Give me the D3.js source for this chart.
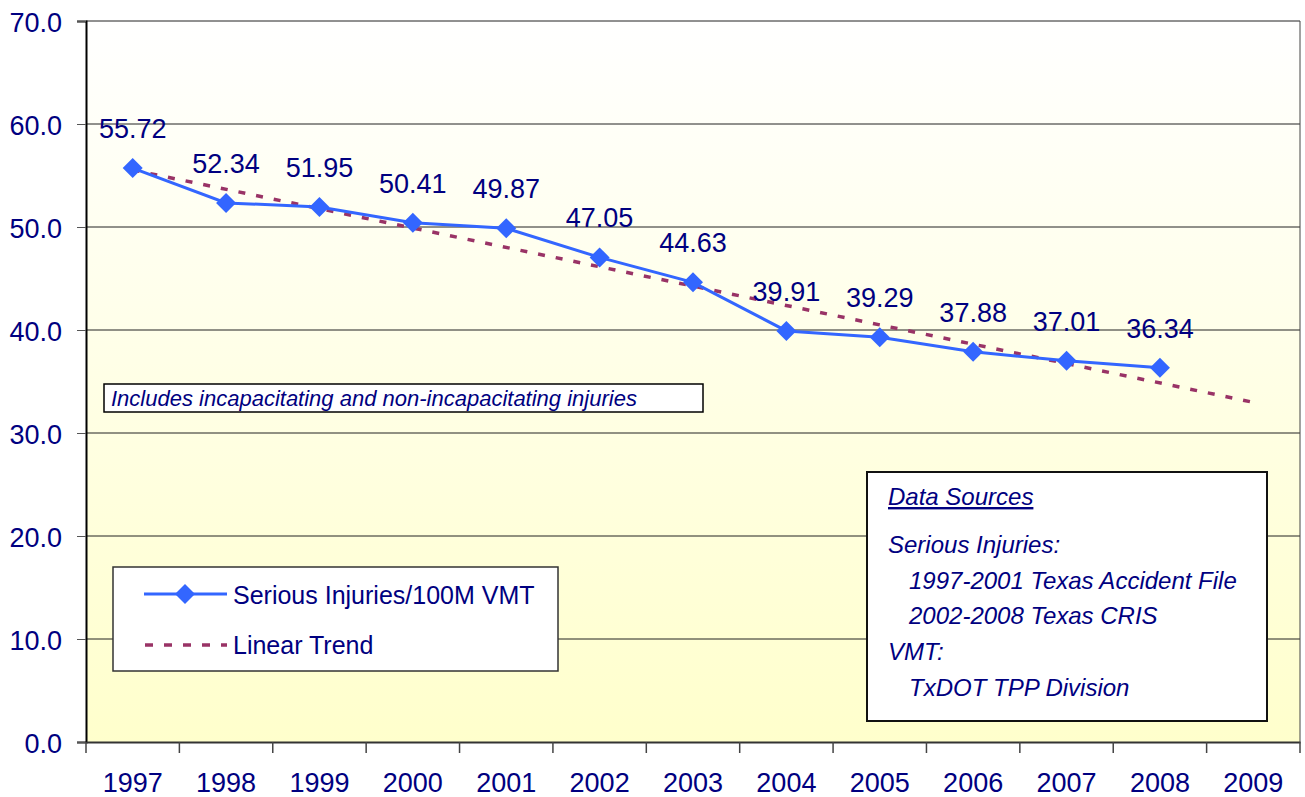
<!DOCTYPE html>
<html>
<head>
<meta charset="utf-8">
<script src="https://d3js.org/d3.v7.min.js"></script>
<style>
body { margin: 0; background: #fff; }
svg text { font-family: "Liberation Sans", Arial, sans-serif; fill: #000080; }
</style>
</head>
<body>
<svg id="chart" width="1305" height="797"></svg>
<script>
// values
const years = ["1997","1998","1999","2000","2001","2002","2003","2004","2005","2006","2007","2008","2009"];
const injuryYears = ["1997","1998","1999","2000","2001","2002","2003","2004","2005","2006","2007","2008"];
const injuryRates = [55.72, 52.34, 51.95, 50.41, 49.87, 47.05, 44.63, 39.91, 39.29, 37.88, 37.01, 36.34];
const trendYears = ["1997", "2009"];
const trendValues = [55.54, 32.98];
const yTicks = [0, 10, 20, 30, 40, 50, 60, 70];
const sourceLines = [
    {text: "Serious Injuries:", indent: false},
    {text: "1997-2001 Texas Accident File", indent: true},
    {text: "2002-2008 Texas CRIS", indent: true},
    {text: "VMT:", indent: false},
    {text: "TxDOT TPP Division", indent: true}
];

const svg = d3.select("#chart");
const plotL = 86, plotR = 1300, plotT = 21, plotB = 742;

const x = d3.scaleBand().domain(years).range([plotL, plotR]).padding(0);
const y = d3.scaleLinear().domain([0, 70]).range([plotB, plotT]);
const cx = d => x(d) + x.bandwidth() / 2;

// plot background gradient
const grad = svg.append("defs").append("linearGradient")
    .attr("id", "bg").attr("x1", 0).attr("y1", 0).attr("x2", 0).attr("y2", 1);
grad.append("stop").attr("offset", "0%").attr("stop-color", "#ffffff");
grad.append("stop").attr("offset", "100%").attr("stop-color", "#ffffcc");

svg.append("rect")
    .attr("x", plotL).attr("y", plotT)
    .attr("width", plotR - plotL).attr("height", plotB - plotT)
    .attr("fill", "url(#bg)");

// gridlines
svg.append("g").selectAll("line")
    .data(yTicks.filter(t => t > 0))
    .join("line")
    .attr("x1", plotL).attr("x2", plotR)
    .attr("y1", d => y(d)).attr("y2", d => y(d))
    .attr("stroke", "#222").attr("stroke-width", 1);

// right border
svg.append("line")
    .attr("x1", plotR).attr("x2", plotR).attr("y1", plotT).attr("y2", plotB)
    .attr("stroke", "#444").attr("stroke-width", 1);

// y axis
const yAxis = svg.append("g")
    .attr("transform", `translate(${plotL},0)`)
    .call(d3.axisLeft(y).tickValues(yTicks).tickFormat(d3.format(".1f")).tickSize(9).tickPadding(15));
yAxis.select(".domain").attr("stroke", "#000").attr("stroke-width", 2);
yAxis.selectAll(".tick line").attr("stroke", "#555");
yAxis.selectAll(".tick text")
    .style("font-size", "27px").attr("fill", "#000080").attr("dy", "0.38em");

// x axis
const xAxis = svg.append("g")
    .attr("transform", `translate(0,${plotB})`)
    .call(d3.axisBottom(x).tickSize(0).tickPadding(0));
xAxis.select(".domain").attr("stroke", "#333").attr("stroke-width", 2);
xAxis.selectAll(".tick text")
    .style("font-size", "27px").attr("fill", "#000080")
    .attr("y", 50).attr("dy", 0);
svg.append("g").selectAll("line")
    .data(years.concat(["end"]))
    .join("line")
    .attr("x1", (d, i) => plotL + i * x.bandwidth())
    .attr("x2", (d, i) => plotL + i * x.bandwidth())
    .attr("y1", plotB).attr("y2", plotB + 11)
    .attr("stroke", "#444").attr("stroke-width", 1.5);

// linear trend
svg.append("path")
    .datum(trendYears.map((d, i) => [cx(d), y(trendValues[i])]))
    .attr("d", d3.line())
    .attr("fill", "none")
    .attr("stroke", "#993366")
    .attr("stroke-width", 3.5)
    .attr("stroke-dasharray", "7,11");

// series line
const pts = injuryYears.map((d, i) => [cx(d), y(injuryRates[i])]);
svg.append("path")
    .datum(pts)
    .attr("d", d3.line())
    .attr("fill", "none")
    .attr("stroke", "#3366ff")
    .attr("stroke-width", 3);

const diamond = "M0,-10L10,0L0,10L-10,0Z";
svg.append("g").selectAll("path")
    .data(pts)
    .join("path")
    .attr("d", diamond)
    .attr("transform", d => `translate(${d[0]},${d[1]})`)
    .attr("fill", "#3366ff");

// data labels
svg.append("g").selectAll("text")
    .data(injuryRates)
    .join("text")
    .attr("x", (d, i) => cx(injuryYears[i]))
    .attr("y", d => y(d) - 30)
    .attr("text-anchor", "middle")
    .style("font-size", "27px")
    .text(d => d.toFixed(2));

// note box
svg.append("rect")
    .attr("x", 104).attr("y", 384).attr("width", 599).attr("height", 28)
    .attr("fill", "#fff").attr("stroke", "#000").attr("stroke-width", 1.5);
svg.append("text")
    .attr("x", 111).attr("y", 406)
    .style("font-size", "22px").style("font-style", "italic")
    .text("Includes incapacitating and non-incapacitating injuries");

// legend
const leg = svg.append("g");
leg.append("rect")
    .attr("x", 113).attr("y", 567).attr("width", 445).attr("height", 104)
    .attr("fill", "#fff").attr("stroke", "#333").attr("stroke-width", 1.5);
leg.append("line")
    .attr("x1", 144).attr("x2", 227).attr("y1", 594).attr("y2", 594)
    .attr("stroke", "#3366ff").attr("stroke-width", 3);
leg.append("path")
    .attr("d", diamond)
    .attr("transform", "translate(185,594)")
    .attr("fill", "#3366ff");
leg.append("line")
    .attr("x1", 145).attr("x2", 227).attr("y1", 645).attr("y2", 645)
    .attr("stroke", "#993366").attr("stroke-width", 3.5)
    .attr("stroke-dasharray", "8,11");
leg.append("text").attr("x", 233).attr("y", 604)
    .style("font-size", "25px").text("Serious Injuries/100M VMT");
leg.append("text").attr("x", 233).attr("y", 654)
    .style("font-size", "25px").text("Linear Trend");

// data sources box
const src = svg.append("g");
src.append("rect")
    .attr("x", 867).attr("y", 472).attr("width", 400).attr("height", 249)
    .attr("fill", "#fff").attr("stroke", "#111").attr("stroke-width", 2);
src.append("text")
    .attr("x", 888).attr("y", 505)
    .style("font-size", "24px").style("font-style", "italic")
    .style("text-decoration", "underline")
    .text("Data Sources");
src.selectAll("text.line")
    .data(sourceLines)
    .join("text")
    .attr("class", "line")
    .attr("x", d => d.indent ? 909 : 888)
    .attr("y", (d, i) => 553 + i * 35.7)
    .style("font-size", "24px").style("font-style", "italic")
    .text(d => d.text);
</script>
</body>
</html>
